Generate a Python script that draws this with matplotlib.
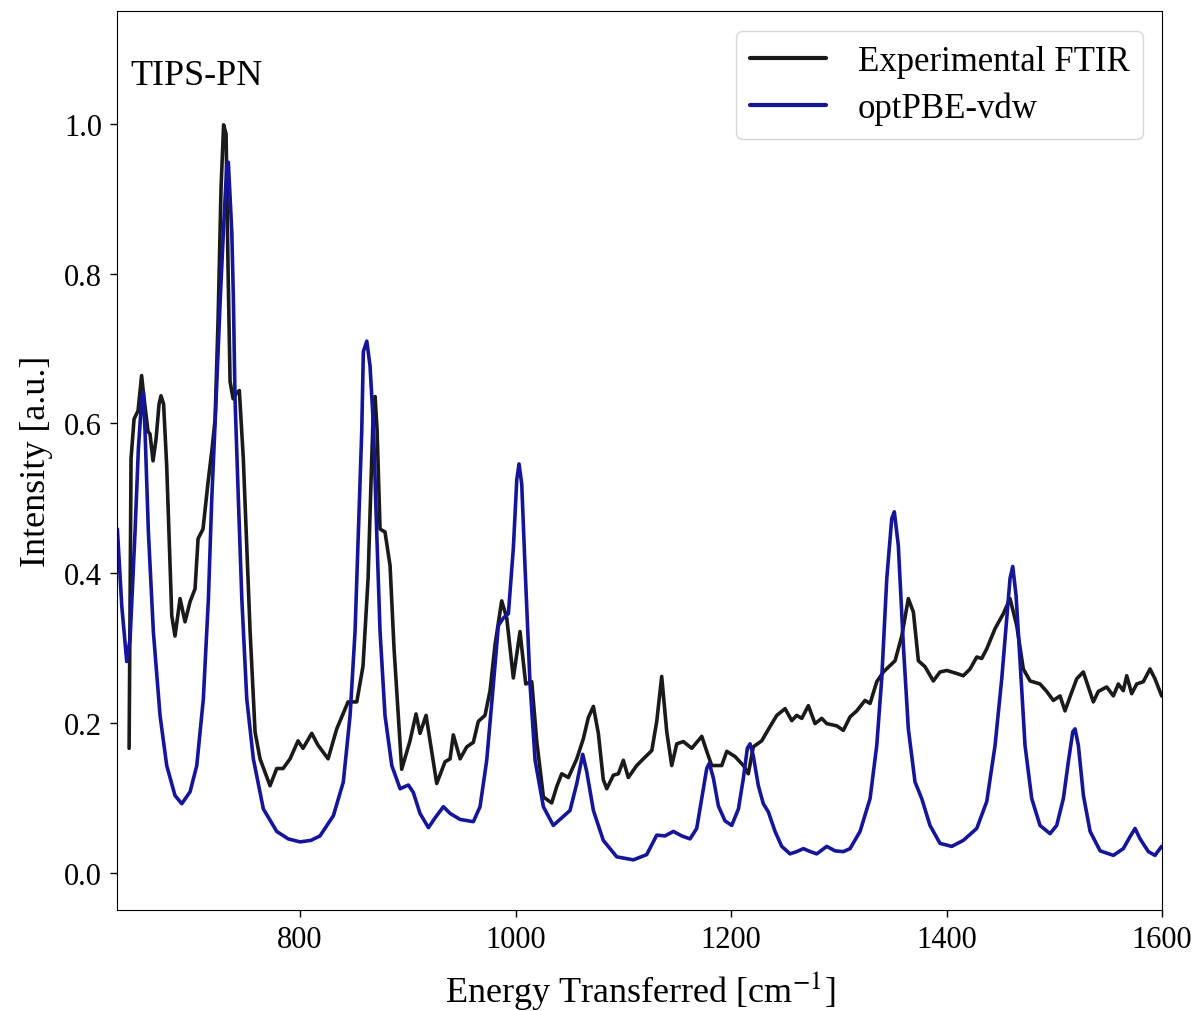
import matplotlib
matplotlib.use("Agg")
import matplotlib.pyplot as plt

# Experimental FTIR (black)
exp_x = [641.3, 643.1, 645.9, 649.6, 652.9, 655.2, 658.9, 660.7, 663.5, 666.3, 669.1, 670.9, 673.3, 676.2,
         680.9, 683.9, 688.6, 693.2, 697.9, 702.5, 705.3, 709.9, 714.6, 718.3, 721.1, 723.9, 726.6, 729.0,
         731.3, 733.1, 735.0, 737.8, 740.6, 743.6, 747.3, 753.6, 758.2, 762.8, 772.1, 778.3, 784.2, 790.7,
         798.1, 802.7, 810.8, 816.7, 826.0, 834.0, 844.5, 852.6, 858.4, 863.1, 865.9, 867.7, 869.6, 871.4,
         874.2, 878.8, 883.5, 887.2, 894.3, 902.0, 907.6, 911.3, 916.9, 920.6, 926.8, 934.5, 939.2, 942.2,
         948.5, 954.7, 960.8, 965.4, 971.6, 976.3, 980.9, 987.1, 991.8, 997.9, 1004.1, 1009.4, 1015.0,
         1019.6, 1025.8, 1033.5, 1038.2, 1042.8, 1049.0, 1056.8, 1062.9, 1067.5, 1072.2, 1076.8, 1081.4,
         1084.6, 1090.7, 1095.4, 1100.0, 1104.6, 1112.4, 1118.6, 1126.4, 1131.0, 1135.6, 1140.3, 1144.9,
         1149.6, 1155.7, 1163.5, 1172.8, 1177.4, 1182.0, 1191.3, 1196.0, 1203.7, 1211.4, 1216.0, 1220.6,
         1228.4, 1236.1, 1242.4, 1250.1, 1256.3, 1260.9, 1265.6, 1271.7, 1277.9, 1284.1, 1288.8, 1298.1,
         1304.2, 1310.4, 1316.6, 1324.3, 1329.0, 1335.2, 1341.3, 1352.2, 1358.4, 1364.5, 1369.2, 1373.8,
         1380.0, 1387.7, 1393.9, 1400.2, 1409.4, 1415.5, 1421.8, 1428.0, 1432.6, 1437.3, 1445.0, 1452.7,
         1458.9, 1465.1, 1471.2, 1477.5, 1486.7, 1492.9, 1499.1, 1505.3, 1509.9, 1514.6, 1520.8, 1526.9,
         1531.6, 1536.2, 1540.8, 1548.6, 1554.8, 1559.4, 1564.0, 1567.2, 1571.8, 1576.5, 1582.6, 1588.8,
         1593.4, 1599.6]
exp_y = [0.166, 0.553, 0.606, 0.617, 0.664, 0.633, 0.589, 0.586, 0.550, 0.579, 0.626, 0.637, 0.626, 0.543,
         0.343, 0.316, 0.366, 0.335, 0.362, 0.379, 0.446, 0.459, 0.522, 0.566, 0.606, 0.740, 0.913, 0.999,
         0.987, 0.810, 0.656, 0.633, 0.640, 0.644, 0.553, 0.322, 0.188, 0.152, 0.116, 0.139, 0.139, 0.152,
         0.176, 0.166, 0.186, 0.170, 0.152, 0.192, 0.228, 0.228, 0.276, 0.393, 0.526, 0.606, 0.636, 0.593,
         0.459, 0.455, 0.410, 0.299, 0.138, 0.176, 0.212, 0.186, 0.210, 0.176, 0.119, 0.148, 0.152, 0.184,
         0.152, 0.168, 0.174, 0.202, 0.210, 0.243, 0.304, 0.363, 0.340, 0.260, 0.322, 0.252, 0.255,
         0.176, 0.101, 0.093, 0.115, 0.132, 0.127, 0.152, 0.179, 0.207, 0.222, 0.186, 0.124,
         0.112, 0.130, 0.132, 0.150, 0.127, 0.143, 0.152, 0.163, 0.202, 0.262, 0.188, 0.143,
         0.172, 0.175, 0.166, 0.182, 0.162, 0.143, 0.143, 0.162, 0.155, 0.143, 0.132, 0.168,
         0.176, 0.195, 0.210, 0.219, 0.203, 0.210, 0.206, 0.223, 0.199, 0.206, 0.199, 0.196,
         0.190, 0.208, 0.216, 0.230, 0.226, 0.255, 0.268, 0.283, 0.316, 0.366, 0.348, 0.283,
         0.275, 0.256, 0.268, 0.270, 0.266, 0.263, 0.272, 0.288, 0.286, 0.299, 0.326, 0.346,
         0.366, 0.330, 0.272, 0.256, 0.252, 0.242, 0.230, 0.236, 0.216, 0.235, 0.259, 0.268,
         0.248, 0.228, 0.242, 0.248, 0.236, 0.252, 0.243, 0.263, 0.239, 0.252, 0.255, 0.272,
         0.259, 0.236]

# optPBE-vdw calculation (blue)
calc_x = [630.4, 634.5, 639.1, 642.2, 646.8, 649.9, 653.0, 654.5, 656.1, 659.2, 663.8, 670.0, 676.2, 683.9,
          690.2, 697.9, 704.1, 710.2, 714.9, 718.0, 721.4, 725.9, 728.8, 731.9, 733.4, 736.6, 738.1, 739.6,
          742.7, 745.9, 750.5, 756.6, 765.9, 778.3, 789.0, 800.0, 810.0, 818.5, 830.9, 840.1, 846.4, 851.0,
          854.1, 857.2, 858.7, 861.9, 864.9, 868.0, 871.1, 874.2, 878.8, 885.1, 892.8, 900.5, 905.1, 911.3,
          919.1, 925.2, 933.0, 939.2, 948.5, 960.8, 967.0, 973.2, 979.4, 984.0, 988.6, 993.3, 997.9, 1001.1,
          1003.2, 1005.7, 1008.8, 1013.4, 1018.1, 1025.8, 1035.0, 1042.8, 1050.5, 1056.8, 1062.3, 1066.0,
          1072.2, 1081.4, 1093.9, 1109.3, 1121.7, 1131.0, 1138.7, 1146.4, 1154.2, 1161.9, 1168.1, 1172.8,
          1177.4, 1179.8, 1183.6, 1188.2, 1194.4, 1200.6, 1206.8, 1211.4, 1215.1, 1217.6, 1220.6, 1225.3,
          1229.9, 1234.6, 1240.8, 1247.0, 1254.7, 1260.9, 1267.1, 1273.5, 1279.5, 1288.8, 1296.5, 1304.2,
          1310.4, 1319.7, 1329.0, 1335.2, 1339.8, 1344.5, 1349.1, 1351.5, 1355.2, 1359.9, 1364.5, 1370.7,
          1376.9, 1384.6, 1393.9, 1404.8, 1415.5, 1428.0, 1437.3, 1445.0, 1451.2, 1455.8, 1458.9, 1461.4,
          1464.5, 1468.2, 1472.8, 1479.0, 1486.7, 1496.0, 1502.2, 1508.4, 1513.0, 1517.1, 1519.2, 1522.3,
          1527.0, 1533.2, 1542.5, 1554.8, 1564.0, 1570.3, 1574.9, 1579.6, 1587.3, 1593.4, 1599.6]
calc_y = [0.459, 0.356, 0.282, 0.312, 0.455, 0.566, 0.633, 0.642, 0.589, 0.455, 0.322, 0.210, 0.143, 0.103,
          0.092, 0.108, 0.143, 0.232, 0.366, 0.499, 0.610, 0.766, 0.856, 0.944, 0.949, 0.856, 0.766, 0.633,
          0.499, 0.366, 0.232, 0.152, 0.085, 0.055, 0.045, 0.041, 0.043, 0.049, 0.076, 0.121, 0.210, 0.322,
          0.455, 0.589, 0.696, 0.710, 0.677, 0.599, 0.455, 0.322, 0.210, 0.143, 0.112, 0.117, 0.107, 0.079,
          0.060, 0.073, 0.088, 0.079, 0.071, 0.068, 0.088, 0.150, 0.252, 0.330, 0.340, 0.346, 0.433, 0.525,
          0.546, 0.519, 0.407, 0.252, 0.150, 0.088, 0.063, 0.073, 0.083, 0.119, 0.158, 0.135,
          0.083, 0.043, 0.021, 0.017, 0.024, 0.050, 0.049, 0.055, 0.049, 0.045, 0.059, 0.099,
          0.139, 0.146, 0.126, 0.089, 0.069, 0.063, 0.085, 0.126, 0.166, 0.172, 0.156, 0.116,
          0.092, 0.081, 0.055, 0.035, 0.025, 0.028, 0.032, 0.028, 0.025, 0.035, 0.029, 0.028,
          0.032, 0.055, 0.099, 0.170, 0.259, 0.393, 0.473, 0.482, 0.437, 0.303, 0.192, 0.121,
          0.099, 0.063, 0.039, 0.035, 0.043, 0.059, 0.095, 0.170, 0.259, 0.339, 0.393, 0.409,
          0.370, 0.282, 0.170, 0.099, 0.063, 0.052, 0.063, 0.099, 0.148, 0.188, 0.192, 0.170,
          0.103, 0.055, 0.029, 0.023, 0.032, 0.048, 0.059, 0.045, 0.028, 0.023, 0.035]

series_labels = ["Experimental FTIR", "optPBE-vdw"]
x_ticks = [800, 1000, 1200, 1400, 1600]
y_ticks = [0.0, 0.2, 0.4, 0.6, 0.8, 1.0]

plt.rcParams['font.family'] = ['Liberation Serif', 'DejaVu Serif']
plt.rcParams['mathtext.fontset'] = 'stix'

fig = plt.figure(figsize=(12, 10.12), dpi=100)
ax = fig.add_axes([0.0978, 0.0998, 0.8706, 0.8883])

ax.plot(exp_x, exp_y, color='#1a1a1a', lw=2.6, label=series_labels[0],
        solid_joinstyle='round', solid_capstyle='round')
ax.plot(calc_x, calc_y, color='#15159a', lw=2.6, label=series_labels[1],
        solid_joinstyle='round', solid_capstyle='round')

ax.set_xlim(630.4, 1600)
ax.set_ylim(-0.05, 1.151)
ax.set_xticks(x_ticks)
ax.set_yticks(y_ticks)
ax.set_xticklabels([str(v) for v in x_ticks])
ax.set_yticklabels([f"{v:.1f}" for v in y_ticks])
ax.tick_params(labelsize=22, length=5, width=1.0, pad=6)

ax.set_xlabel(r"Energy Transferred [cm$^{-1}$]", fontsize=26, labelpad=10)
ax.set_ylabel("Intensity [a.u.]", fontsize=26, labelpad=8)

ax.text(0.012, 0.928, "TIPS-PN", transform=ax.transAxes, fontsize=26,
        ha='left', va='center')

leg = ax.legend(loc='upper right', fontsize=25, handlelength=2.2, frameon=True,
                fancybox=True, borderpad=0.4, labelspacing=0.4, handletextpad=0.9,
                borderaxespad=0.0, bbox_to_anchor=(0.982, 0.978))
leg.get_frame().set_edgecolor('#cccccc')
for line in leg.get_lines():
    line.set_linewidth(3.0)

fig.savefig("out.png", dpi=100)
